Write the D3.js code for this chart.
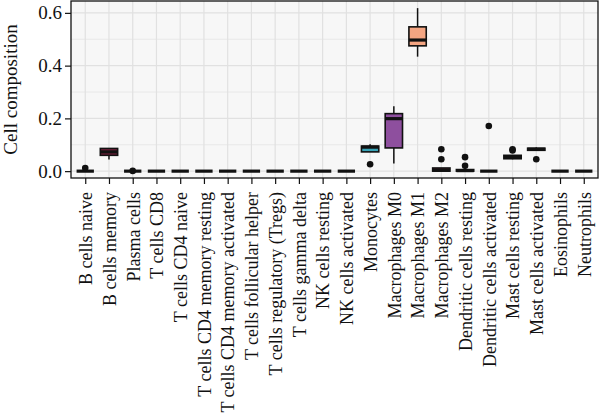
<!DOCTYPE html>
<html>
<head>
<meta charset="utf-8">
<script src="https://cdn.jsdelivr.net/npm/d3@7"></script>
<style>
  body { margin: 0; background: #fff; }
</style>
</head>
<body>
<svg id="chart" width="600" height="414" font-family="Liberation Serif"></svg>
<script>
// cell types along the x axis
const cellTypes = ["B cells naive", "B cells memory", "Plasma cells", "T cells CD8", "T cells CD4 naive",
  "T cells CD4 memory resting", "T cells CD4 memory activated", "T cells follicular helper",
  "T cells regulatory (Tregs)", "T cells gamma delta", "NK cells resting", "NK cells activated",
  "Monocytes", "Macrophages M0", "Macrophages M1", "Macrophages M2", "Dendritic cells resting",
  "Dendritic cells activated", "Mast cells resting", "Mast cells activated", "Eosinophils", "Neutrophils"];

// box stats
const whiskLow  = [0, 0.044, 0, 0, 0, 0, 0, 0, 0, 0, 0, 0, 0.073, 0.029, 0.434, 0, 0, 0, 0.045, 0.078, 0, 0];
const q1        = [0, 0.060, 0, 0, 0, 0, 0, 0, 0, 0, 0, 0, 0.073, 0.088, 0.475, 0, 0, 0, 0.047, 0.079, 0, 0];
const medians   = [0, 0.073, 0, 0, 0, 0, 0, 0, 0, 0, 0, 0, 0.091, 0.199, 0.497, 0.004, 0.002, 0, 0.054, 0.083, 0, 0];
const q3        = [0, 0.086, 0, 0, 0, 0, 0, 0, 0, 0, 0, 0, 0.095, 0.218, 0.547, 0.012, 0.006, 0, 0.060, 0.087, 0, 0];
const whiskHigh = [0, 0.088, 0, 0, 0, 0, 0, 0, 0, 0, 0, 0, 0.102, 0.246, 0.618, 0.012, 0.006, 0, 0.060, 0.090, 0, 0];
const outliers  = [[0.012], [], [0.001], [], [], [], [], [], [], [], [], [], [0.026], [], [], [0.045, 0.083],
  [0.020, 0.053], [0.171], [0.078, 0.083], [0.045], [], []];

const boxColors = ["#3b0f70", "#7a1f3d", "#51127c", "#5a1a7a", "#641a80", "#6f1f81", "#7b2382", "#8c2981",
  "#982d80", "#a3307e", "#b73779", "#c43c75", "#38a3b6", "#8e4f9e", "#f4a582", "#7c1d3f", "#5c1a5e",
  "#4a1048", "#2d1150", "#1f0c48", "#150e37", "#0b0924"];

const yTicks = [0, 0.2, 0.4, 0.6];
const yMinor = [0.1, 0.3, 0.5];

const margin = {top: 1, right: 2, bottom: 236, left: 71};
const width = 600, height = 414;
const plotRight = width - margin.right, plotBottom = height - margin.bottom;
const serif = "Liberation Serif";

const svg = d3.select("#chart");

const x = d3.scalePoint()
  .domain(cellTypes)
  .range([margin.left, plotRight])
  .padding(0.6);

const y = d3.scaleLinear()
  .domain([-0.026, 0.645])
  .range([plotBottom, margin.top]);

const boxW = x.step() * 0.73;

// panel
svg.append("rect")
  .attr("x", margin.left).attr("y", margin.top)
  .attr("width", plotRight - margin.left).attr("height", plotBottom - margin.top)
  .attr("fill", "#f7f7f7");

// grid
svg.selectAll(".gminor").data(yMinor).enter().append("line")
  .attr("x1", margin.left).attr("x2", plotRight)
  .attr("y1", d => y(d)).attr("y2", d => y(d))
  .attr("stroke", "#e8e8e8").attr("stroke-width", 1);
svg.selectAll(".gmajor").data(yTicks).enter().append("line")
  .attr("x1", margin.left).attr("x2", plotRight)
  .attr("y1", d => y(d)).attr("y2", d => y(d))
  .attr("stroke", "#e1e1e1").attr("stroke-width", 1.2);
svg.selectAll(".gx").data(cellTypes).enter().append("line")
  .attr("x1", d => x(d)).attr("x2", d => x(d))
  .attr("y1", margin.top).attr("y2", plotBottom)
  .attr("stroke", "#e1e1e1").attr("stroke-width", 1.2);

// boxes
const g = svg.selectAll(".box").data(cellTypes).enter().append("g");

g.append("line")
  .attr("x1", d => x(d)).attr("x2", d => x(d))
  .attr("y1", (d, i) => y(whiskHigh[i])).attr("y2", (d, i) => y(q3[i]))
  .attr("stroke", "#111").attr("stroke-width", 1.5);
g.append("line")
  .attr("x1", d => x(d)).attr("x2", d => x(d))
  .attr("y1", (d, i) => y(q1[i])).attr("y2", (d, i) => y(whiskLow[i]))
  .attr("stroke", "#111").attr("stroke-width", 1.5);

g.append("rect")
  .attr("x", d => x(d) - boxW / 2)
  .attr("y", (d, i) => y(q3[i]))
  .attr("width", boxW)
  .attr("height", (d, i) => Math.max(0, y(q1[i]) - y(q3[i])))
  .attr("fill", (d, i) => boxColors[i])
  .attr("stroke", "#111").attr("stroke-width", 1.6);

g.append("line")
  .attr("x1", d => x(d) - boxW / 2).attr("x2", d => x(d) + boxW / 2)
  .attr("y1", (d, i) => y(medians[i])).attr("y2", (d, i) => y(medians[i]))
  .attr("stroke", "#111").attr("stroke-width", 3.2);

g.each(function(d, i) {
  d3.select(this).selectAll("circle").data(outliers[i]).enter().append("circle")
    .attr("cx", x(d)).attr("cy", v => y(v)).attr("r", 3.3)
    .attr("fill", "#111");
});

// panel border
svg.append("rect")
  .attr("x", margin.left).attr("y", margin.top)
  .attr("width", plotRight - margin.left).attr("height", plotBottom - margin.top)
  .attr("fill", "none").attr("stroke", "#111").attr("stroke-width", 1.3);

// y axis
const yAxis = svg.append("g")
  .attr("transform", `translate(${margin.left},0)`)
  .call(d3.axisLeft(y).tickValues(yTicks).tickFormat(d3.format(".1f")).tickSize(6).tickPadding(3));
yAxis.attr("font-family", serif).attr("font-size", 19);
yAxis.select(".domain").remove();
yAxis.selectAll("line").attr("stroke", "#111").attr("stroke-width", 1.2);
yAxis.selectAll("text").attr("fill", "#111").attr("font-family", serif).attr("font-size", 19);

// x axis
const xAxis = svg.append("g")
  .attr("transform", `translate(0,${plotBottom})`)
  .call(d3.axisBottom(x).tickSize(6).tickPadding(3));
xAxis.attr("font-family", serif).attr("font-size", 18);
xAxis.select(".domain").remove();
xAxis.selectAll("line").attr("stroke", "#111").attr("stroke-width", 1.2);
xAxis.selectAll("text")
  .attr("fill", "#111")
  .attr("font-family", serif)
  .attr("text-anchor", "end")
  .attr("transform", "rotate(-90)")
  .attr("x", -14).attr("y", 0).attr("dy", "0.35em");

// y title
svg.append("text")
  .attr("transform", `translate(17,${(margin.top + plotBottom) / 2}) rotate(-90)`)
  .attr("text-anchor", "middle")
  .attr("font-family", serif)
  .attr("font-size", 19)
  .attr("fill", "#111")
  .text("Cell composition");
</script>
</body>
</html>
